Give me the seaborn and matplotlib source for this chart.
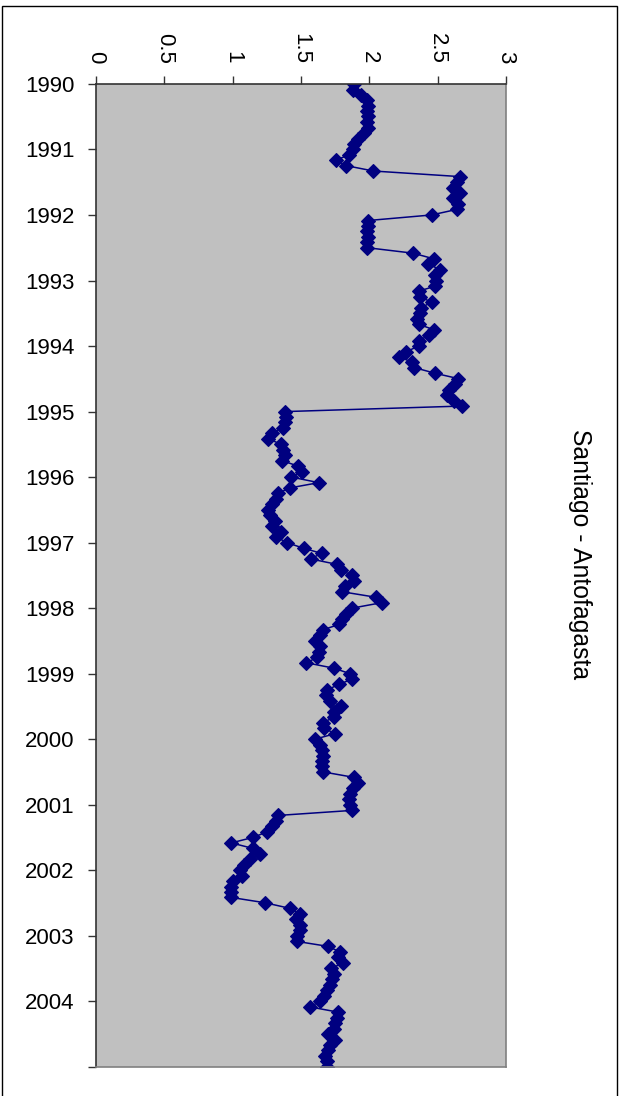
import numpy as np
import pandas as pd
import matplotlib
matplotlib.use("Agg")
import matplotlib.pyplot as plt
import matplotlib.dates as mdates
from matplotlib.patches import Rectangle
import seaborn as sns
from datetime import datetime

# Monthly values, one list per year (January .. December)
v1990 = [1.89, 1.88, 1.94, 1.98, 1.99, 1.98, 1.99, 1.98, 1.99, 1.96, 1.92, 1.89]
v1991 = [1.88, 1.85, 1.755, 1.83, 2.03, 2.66, 2.64, 2.61, 2.66, 2.61, 2.65, 2.64]
v1992 = [2.455, 1.99, 1.99, 1.98, 1.99, 1.98, 1.98, 2.32, 2.47, 2.43, 2.52, 2.48]
v1993 = [2.49, 2.48, 2.36, 2.37, 2.455, 2.38, 2.37, 2.35, 2.36, 2.47, 2.44, 2.36]
v1994 = [2.36, 2.27, 2.22, 2.31, 2.33, 2.48, 2.65, 2.63, 2.58, 2.57, 2.62, 2.68]
v1995 = [1.38, 1.39, 1.38, 1.37, 1.29, 1.26, 1.35, 1.37, 1.38, 1.36, 1.48, 1.505]
v1996 = [1.43, 1.63, 1.42, 1.33, 1.32, 1.29, 1.26, 1.27, 1.31, 1.29, 1.35, 1.32]
v1997 = [1.40, 1.52, 1.65, 1.57, 1.76, 1.79, 1.87, 1.89, 1.82, 1.80, 2.05, 2.09]
v1998 = [1.87, 1.83, 1.80, 1.78, 1.66, 1.64, 1.60, 1.64, 1.63, 1.62, 1.54, 1.74]
v1999 = [1.86, 1.87, 1.78, 1.69, 1.68, 1.71, 1.79, 1.74, 1.74, 1.66, 1.67, 1.75]
v2000 = [1.60, 1.64, 1.65, 1.66, 1.65, 1.65, 1.66, 1.89, 1.92, 1.88, 1.86, 1.85]
v2001 = [1.86, 1.87, 1.33, 1.32, 1.29, 1.25, 1.15, 0.99, 1.15, 1.20, 1.13, 1.08]
v2002 = [1.05, 1.07, 1.00, 0.99, 0.99, 0.99, 1.24, 1.42, 1.49, 1.46, 1.49, 1.49]
v2003 = [1.47, 1.47, 1.70, 1.785, 1.77, 1.81, 1.72, 1.74, 1.73, 1.71, 1.69, 1.67]
v2004 = [1.64, 1.565, 1.77, 1.76, 1.75, 1.74, 1.70, 1.75, 1.71, 1.70, 1.675, 1.69]
v2005 = [1.69]

years = list(range(1990, 2006))
year_labels = [str(y) for y in range(1990, 2005)] + [""]
value_ticks = [0, 0.5, 1, 1.5, 2, 2.5, 3]
value_labels = ["0", "0.5", "1", "1.5", "2", "2.5", "3"]
title = "Santiago - Antofagasta"

values = (v1990 + v1991 + v1992 + v1993 + v1994 + v1995 + v1996 + v1997 +
          v1998 + v1999 + v2000 + v2001 + v2002 + v2003 + v2004 + v2005)
dates = pd.date_range("1990-01-01", periods=len(values), freq="MS")
df = pd.DataFrame({"date": dates, "value": values})

plt.rcParams["font.family"] = ["Liberation Sans", "DejaVu Sans"]

W, H = 621, 1096
fig = plt.figure(figsize=(W / 100, H / 100), dpi=100)
fig.patch.set_facecolor("white")

x0, x1 = 96, 506
y0, y1 = 84, 1067
ax = fig.add_axes([x0 / W, 1 - y1 / H, (x1 - x0) / W, (y1 - y0) / H])
ax.set_facecolor("#C0C0C0")

navy = "#000080"
sns.lineplot(data=df, x="value", y="date", sort=False, estimator=None,
             color=navy, linewidth=1.1, marker="D", markersize=6.8,
             markeredgecolor=navy, markeredgewidth=0.8, ax=ax)

ax.set_xlim(0, 3)
ax.set_ylim(datetime(2005, 1, 1), datetime(1990, 1, 1))

# value axis along the top, labels turned to read downward
ax.xaxis.tick_top()
ax.set_xticks(value_ticks)
ax.set_xticklabels(value_labels, rotation=-90, fontsize=16)
ax.tick_params(axis="x", direction="out", length=6, width=1.0,
               color="#333333", pad=8.5)

tick_dates = [mdates.date2num(datetime(y, 1, 1)) for y in years]
ax.set_yticks(tick_dates)
ax.set_yticklabels(year_labels, fontsize=16)
ax.tick_params(axis="y", direction="out", length=6, width=1.0,
               color="#333333", pad=9.5)

ax.set_xlabel("")
ax.set_ylabel("")
ax.grid(False)
if ax.get_legend() is not None:
    ax.get_legend().remove()

for side in ("top", "left"):
    ax.spines[side].set_color("#333333")
    ax.spines[side].set_linewidth(1.2)
for side in ("bottom", "right"):
    ax.spines[side].set_color("#808080")
    ax.spines[side].set_linewidth(1.2)

fig.text(580 / W, 1 - 554 / H, title, rotation=-90, ha="center",
         va="center", fontsize=17.8)

# chart frame
fig.add_artist(Rectangle((2 / W, -0.01), 615 / W, 1.01 - 6 / H,
                         transform=fig.transFigure, fill=False,
                         edgecolor="black", linewidth=1.0, clip_on=False))

fig.savefig("out.png", dpi=100, facecolor="white")
